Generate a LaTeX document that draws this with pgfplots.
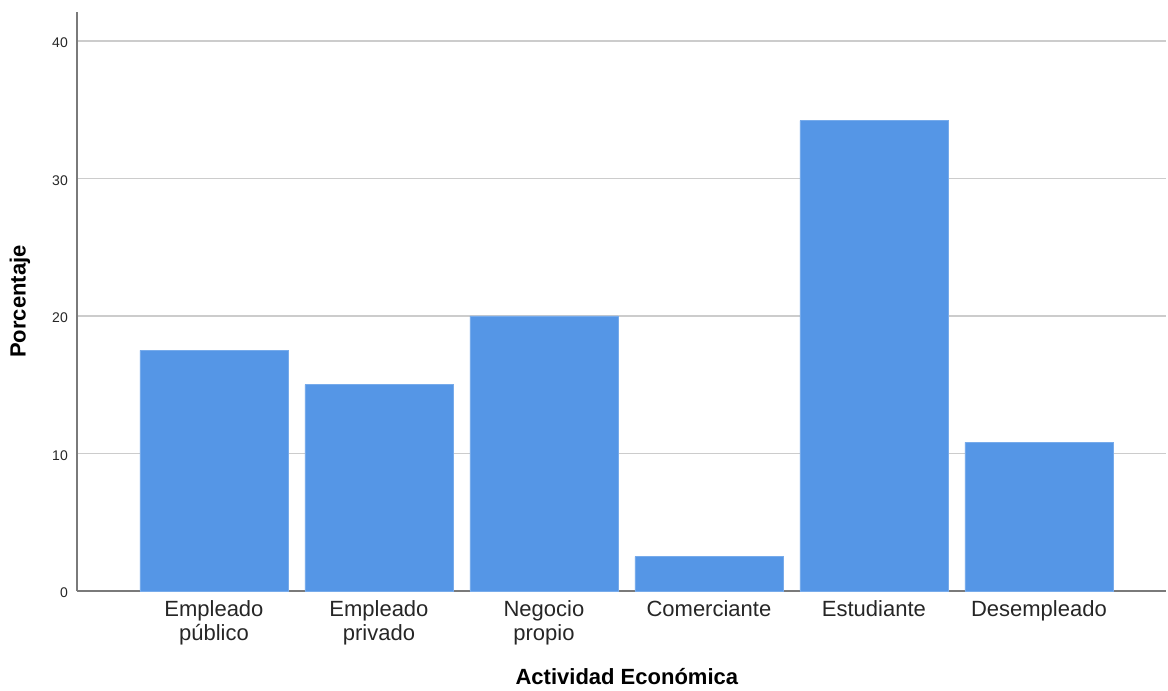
\documentclass[border=0pt]{standalone}
\usepackage{fontspec}
\setmainfont{Liberation Sans}
\usepackage{pgfplots}
\pgfplotsset{compat=1.18}
\definecolor{barblue}{HTML}{5596E6}
\definecolor{gridgray}{HTML}{CCCCCC}
\definecolor{axisgray}{HTML}{7A7A7A}
\begin{document}
\begin{tikzpicture}
\begin{axis}[
  at={(0,0)}, anchor=south west,
  scale only axis,
  width=1089pt, height=579pt,
  xmin=-0.83, xmax=5.77,
  ymin=0, ymax=42.1,
  axis x line=bottom, axis y line=left,
  axis line style={axisgray, line width=1.3pt, -},
  x axis line style={-}, y axis line style={-},
  ymajorgrids=true,
  grid style={gridgray, line width=1.3pt},
  major tick length=0pt,
  ytick={0,10,20,30,40},
  xtick={0,1,2,3,4,5},
  xticklabels={{Empleado\\público},{Empleado\\privado},{Negocio\\propio},{Comerciante},{Estudiante},{Desempleado}},
  xticklabel style={align=center, font=\fontsize{22}{24}\selectfont, inner sep=0pt, anchor=north, yshift=-9pt, text=black!85},
  yticklabel style={font=\fontsize{14}{14}\selectfont, inner sep=0pt, anchor=east, xshift=-9pt, yshift=-2pt, text=black!85},
  /pgf/number format/assume math mode=true,
  xlabel={\textbf{Actividad Económica}},
  ylabel={\textbf{Porcentaje}},
  xlabel style={font=\fontsize{22}{24}\selectfont, at={(axis description cs:0.505,-0.1485)}, anchor=center},
  ylabel style={font=\fontsize{22}{24}\selectfont, at={(axis description cs:-0.0523,0.5)}, anchor=center},
  clip=false,
]
\addplot[ybar, bar width=0.897, fill=barblue, draw=barblue!80!white, line width=0.8pt] coordinates {
  (0,17.5) (1,15.0) (2,20.0) (3,2.5) (4,34.2) (5,10.8)
};
\end{axis}
\path (-77pt,-100pt) rectangle (1091pt,591pt);
\end{tikzpicture}
\end{document}
